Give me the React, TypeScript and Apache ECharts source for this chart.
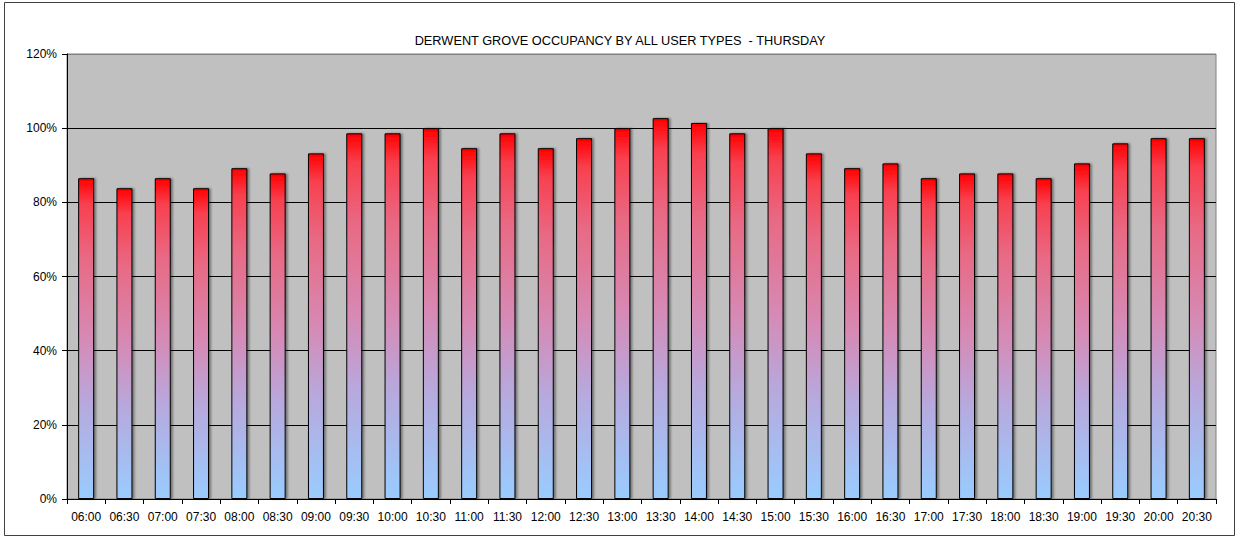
import React, { useEffect, useRef } from "react";
import * as echarts from "echarts";

const titleText = "DERWENT GROVE OCCUPANCY BY ALL USER TYPES  - THURSDAY";

const categories = [
  "06:00", "06:30", "07:00", "07:30", "08:00", "08:30", "09:00", "09:30", "10:00", "10:30",
  "11:00", "11:30", "12:00", "12:30", "13:00", "13:30", "14:00", "14:30", "15:00", "15:30",
  "16:00", "16:30", "17:00", "17:30", "18:00", "18:30", "19:00", "19:30", "20:00", "20:30",
];

const occupancy = [
  0.865, 0.838, 0.865, 0.838, 0.892, 0.878, 0.932, 0.986, 0.986, 1.0,
  0.946, 0.986, 0.946, 0.973, 1.0, 1.027, 1.014, 0.986, 1.0, 0.932,
  0.892, 0.905, 0.865, 0.878, 0.878, 0.865, 0.905, 0.959, 0.973, 0.973,
];

const yTicks = [0, 0.2, 0.4, 0.6, 0.8, 1.0, 1.2];

const FONT = "'Liberation Sans', Arial, sans-serif";

export default function App() {
  const ref = useRef<HTMLDivElement>(null);

  useEffect(() => {
    if (!ref.current) return;
    const chart = echarts.init(ref.current, null, { renderer: "svg" });
    const barGradient = new echarts.graphic.LinearGradient(0, 0, 0, 1, [
      { offset: 0, color: "#FF0000" },
      { offset: 0.08, color: "#F8404F" },
      { offset: 0.25, color: "#E86A85" },
      { offset: 0.5, color: "#D68AB5" },
      { offset: 0.7, color: "#B8A8DC" },
      { offset: 1, color: "#99CCFF" },
    ]);
    chart.setOption({
      animation: false,
      backgroundColor: "#FFFFFF",
      textStyle: { fontFamily: FONT },
      title: {
        text: titleText,
        left: "center",
        top: 29,
        textStyle: { fontSize: 12.75, fontWeight: "normal", color: "#000", fontFamily: FONT },
      },
      graphic: [
        {
          type: "rect",
          shape: { x: 4.5, y: 2.5, width: 1230, height: 533 },
          style: { fill: "none", stroke: "#404040", lineWidth: 1 },
          silent: true,
        },
      ],
      grid: {
        left: 67,
        right: 24,
        top: 54,
        bottom: 39,
        show: true,
        backgroundColor: "#C0C0C0",
        borderColor: "#808080",
        borderWidth: 1,
      },
      xAxis: {
        type: "category",
        data: categories,
        axisLine: { show: true, lineStyle: { color: "#000", width: 1 } },
        axisTick: { show: true, length: 5, lineStyle: { color: "#000" } },
        axisLabel: { fontSize: 12, color: "#000", margin: 12, interval: 0, fontFamily: FONT },
        splitLine: { show: false },
      },
      yAxis: {
        type: "value",
        min: yTicks[0],
        max: yTicks[yTicks.length - 1],
        interval: 0.2,
        axisLine: { show: true, lineStyle: { color: "#000", width: 1 } },
        axisTick: { show: true, length: 5, lineStyle: { color: "#000" } },
        axisLabel: {
          fontSize: 12,
          color: "#000",
          margin: 10,
          fontFamily: FONT,
          formatter: (v: number) => Math.round(v * 100) + "%",
        },
        splitLine: {
          show: true,
          lineStyle: { color: ["#000", "#000", "#000", "#000", "#000", "#000", "#808080"], width: 1 },
        },
      },
      series: [
        {
          type: "bar",
          data: occupancy,
          barWidth: 16,
          itemStyle: {
            color: barGradient,
            borderColor: "#000",
            borderWidth: 1,
            shadowColor: "rgba(0,0,0,0.4)",
            shadowBlur: 2,
            shadowOffsetX: 2,
            shadowOffsetY: 0,
          },
        },
      ],
    });
    return () => chart.dispose();
  }, []);

  return (
    <div
      ref={ref}
      style={{ position: "absolute", left: 0, top: 0, width: 1240, height: 538 }}
    />
  );
}
